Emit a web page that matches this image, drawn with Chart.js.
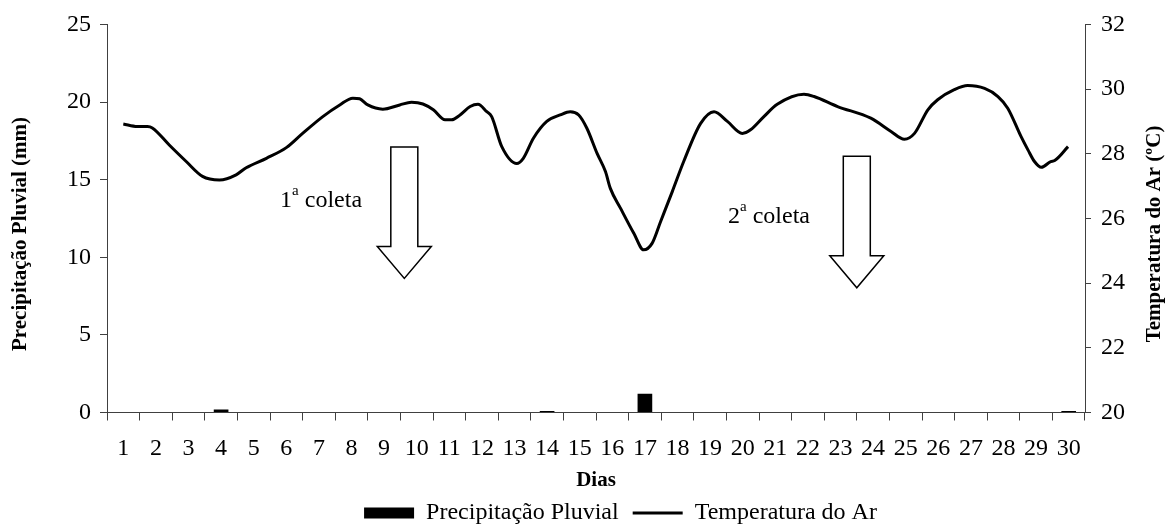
<!DOCTYPE html>
<html>
<head>
<meta charset="utf-8">
<script src="https://cdn.jsdelivr.net/npm/chart.js@4.4.0/dist/chart.umd.min.js"></script>
<style>
  body { margin: 0; background: #fff; }
</style>
</head>
<body>
<canvas id="chart" width="1167" height="529"></canvas>
<script>
const days = ["1", "2", "3", "4", "5", "6", "7", "8", "9", "10", "11", "12", "13", "14", "15",
  "16", "17", "18", "19", "20", "21", "22", "23", "24", "25", "26", "27", "28", "29", "30"];

// Precipitação Pluvial (mm), one value per day
const rain = [0, 0, 0, 0.2, 0, 0, 0, 0, 0, 0, 0, 0, 0, 0.1, 0,
  0, 1.2, 0, 0, 0, 0, 0, 0, 0, 0, 0, 0, 0, 0, 0.1];

// Temperatura do Ar (ºC)
const tempDay = [1.0, 1.43, 1.74, 1.89, 2.41, 2.93, 3.43, 3.95, 4.46, 4.77, 5.39, 6.0, 6.5,
  7.12, 7.64, 8.04, 8.25, 8.5, 8.96, 9.48, 9.84, 10.19, 10.51, 10.87, 11.07, 11.33, 11.64,
  11.88, 12.15, 12.3, 12.61, 13.07, 13.27, 13.58, 13.99, 14.4, 14.71, 14.97, 15.22, 15.53,
  15.79, 15.94, 16.25, 16.66, 16.96, 17.22, 17.48, 17.84, 18.19, 18.71, 19.12, 19.53, 19.99,
  20.24, 20.65, 21.06, 21.88, 22.19, 22.91, 23.93, 24.55, 24.96, 25.27, 25.68, 25.98, 26.49,
  26.9, 27.42, 27.83, 28.13, 28.54, 28.75, 28.95, 29.16, 29.45, 29.57, 29.98];
const tempC = [28.92, 28.84, 28.84, 28.8, 28.27, 27.76, 27.3, 27.19, 27.35, 27.57, 27.86, 28.19,
  28.63, 29.15, 29.51, 29.72, 29.7, 29.51, 29.38, 29.51, 29.59, 29.54, 29.36, 29.05, 29.05,
  29.2, 29.46, 29.53, 29.3, 29.15, 28.22, 27.7, 27.86, 28.48, 29.0, 29.2, 29.3, 29.2, 28.79,
  28.02, 27.45, 26.93, 26.32, 25.54, 25.03, 25.23, 25.9, 26.83, 27.76, 28.94, 29.3, 29.0,
  28.63, 28.74, 29.15, 29.53, 29.84, 29.77, 29.46, 29.1, 28.69, 28.45, 28.63, 29.36, 29.67,
  29.98, 30.11, 30.02, 29.77, 29.41, 28.53, 28.12, 27.76, 27.58, 27.76, 27.79, 28.22];

// arrows marking the sampling dates (day, and mm on the left axis)
const coletas = [
  { num: "1", day: 9.62, top: 17.1, base: 10.7, tip: 8.64, textDay: 5.81, textMm: 13.24 },
  { num: "2", day: 23.5, top: 16.5, base: 10.1, tip: 8.03, textDay: 19.55, textMm: 12.21 }
];

const serif = '"Liberation Serif", "Times New Roman", serif';
const axisColor = "#404040";

const coletaPlugin = {
  id: "coleta",
  afterLayout(chart) {
    // legend sits a bit right of centre in the original
    const lg = chart.legend;
    lg.left += 37;
    lg.right += 37;
    lg.top -= 8;
  },
  afterDatasetsDraw(chart) {
    const ctx = chart.ctx;
    const xs = chart.scales.xTemp;
    const ys = chart.scales.y;
    ctx.save();
    coletas.forEach((c) => {
      const cx = xs.getPixelForValue(c.day);
      const top = ys.getPixelForValue(c.top);
      const base = ys.getPixelForValue(c.base);
      const tip = ys.getPixelForValue(c.tip);
      ctx.beginPath();
      ctx.moveTo(cx - 13.5, top);
      ctx.lineTo(cx + 13.5, top);
      ctx.lineTo(cx + 13.5, base);
      ctx.lineTo(cx + 27, base);
      ctx.lineTo(cx, tip);
      ctx.lineTo(cx - 27, base);
      ctx.lineTo(cx - 13.5, base);
      ctx.closePath();
      ctx.fillStyle = "#fff";
      ctx.fill();
      ctx.lineWidth = 1.5;
      ctx.strokeStyle = "#000";
      ctx.stroke();

      const tx = xs.getPixelForValue(c.textDay);
      const ty = ys.getPixelForValue(c.textMm);
      ctx.fillStyle = "#000";
      ctx.textBaseline = "alphabetic";
      ctx.textAlign = "left";
      ctx.font = "24px " + serif;
      ctx.fillText(c.num, tx, ty);
      const w1 = ctx.measureText(c.num).width;
      ctx.font = "15px " + serif;
      ctx.fillText("a", tx + w1, ty - 12);
      const w2 = ctx.measureText("a").width;
      ctx.font = "24px " + serif;
      ctx.fillText("coleta", tx + w1 + w2 + 6, ty);
    });
    ctx.restore();
  },
  afterDraw(chart) {
    // both axis titles read bottom-to-top
    const ctx = chart.ctx;
    const area = chart.chartArea;
    const cy = area.top + (area.bottom - area.top) * 0.54;
    ctx.save();
    ctx.fillStyle = "#000";
    ctx.font = "bold 21px " + serif;
    ctx.textAlign = "center";
    ctx.textBaseline = "middle";
    [[chart.scales.y.left + 20.5, "Precipitação Pluvial (mm)"],
     [chart.scales.yTemp.right - 12.5, "Temperatura do Ar (ºC)"]].forEach(([x, text]) => {
      ctx.save();
      ctx.translate(x, cy);
      ctx.rotate(-Math.PI / 2);
      ctx.fillText(text, 0, 0);
      ctx.restore();
    });
    ctx.restore();
  }
};

const config = {
  type: "bar",
  data: {
    labels: days,
    datasets: [
      {
        label: "Precipitação Pluvial",
        data: rain,
        backgroundColor: "#000",
        borderColor: "#000",
        borderWidth: 0,
        grouped: false,
        barPercentage: 0.45,
        categoryPercentage: 1,
        pointStyle: "rect",
        xAxisID: "x",
        yAxisID: "y"
      },
      {
        type: "line",
        label: "Temperatura do Ar",
        data: tempDay.map((d, i) => ({ x: d, y: tempC[i] })),
        borderColor: "#000",
        backgroundColor: "#000",
        borderWidth: 3,
        pointRadius: 0,
        pointStyle: "line",
        cubicInterpolationMode: "monotone",
        fill: false,
        xAxisID: "xTemp",
        yAxisID: "yTemp"
      }
    ]
  },
  options: {
    responsive: false,
    animation: false,
    layout: {
      padding: { top: 10, right: 0, left: 0, bottom: 0 }
    },
    plugins: {
      tooltip: { enabled: false },
      legend: {
        position: "bottom",
        maxHeight: 34,
        labels: {
          color: "#000",
          font: { family: serif, size: 24 },
          usePointStyle: true,
          pointStyleWidth: 50,
          boxHeight: 11,
          padding: 14
        }
      }
    },
    scales: {
      x: {
        type: "category",
        offset: true,
        grid: { offset: true, drawOnChartArea: false, tickLength: 8, color: axisColor },
        border: { color: axisColor },
        ticks: { color: "#000", font: { family: serif, size: 24 }, autoSkip: false, maxRotation: 0, padding: 14 },
        title: { display: true, text: "Dias", color: "#000", font: { family: serif, size: 21, weight: "bold" }, padding: { top: 0, bottom: 1.5 } },
        afterFit: (scale) => { scale.height = 82.5; }
      },
      xTemp: {
        type: "linear",
        display: false,
        offset: false,
        min: 0.5,
        max: 30.5
      },
      y: {
        position: "left",
        min: 0,
        max: 25,
        ticks: { stepSize: 5, color: "#000", font: { family: serif, size: 24 }, padding: 9 },
        grid: { drawOnChartArea: false, tickLength: 7, color: axisColor },
        border: { color: axisColor },
        afterFit: (scale) => { scale.width = 107; }
      },
      yTemp: {
        position: "right",
        min: 20,
        max: 32,
        ticks: { stepSize: 2, color: "#000", font: { family: serif, size: 24 }, padding: 10 },
        grid: { drawOnChartArea: false, tickLength: 6, color: axisColor },
        border: { color: axisColor },
        afterFit: (scale) => { scale.width = 82; }
      }
    }
  },
  plugins: [coletaPlugin]
};

var myChart = new Chart(document.getElementById("chart"), config);
</script>
</body>
</html>
